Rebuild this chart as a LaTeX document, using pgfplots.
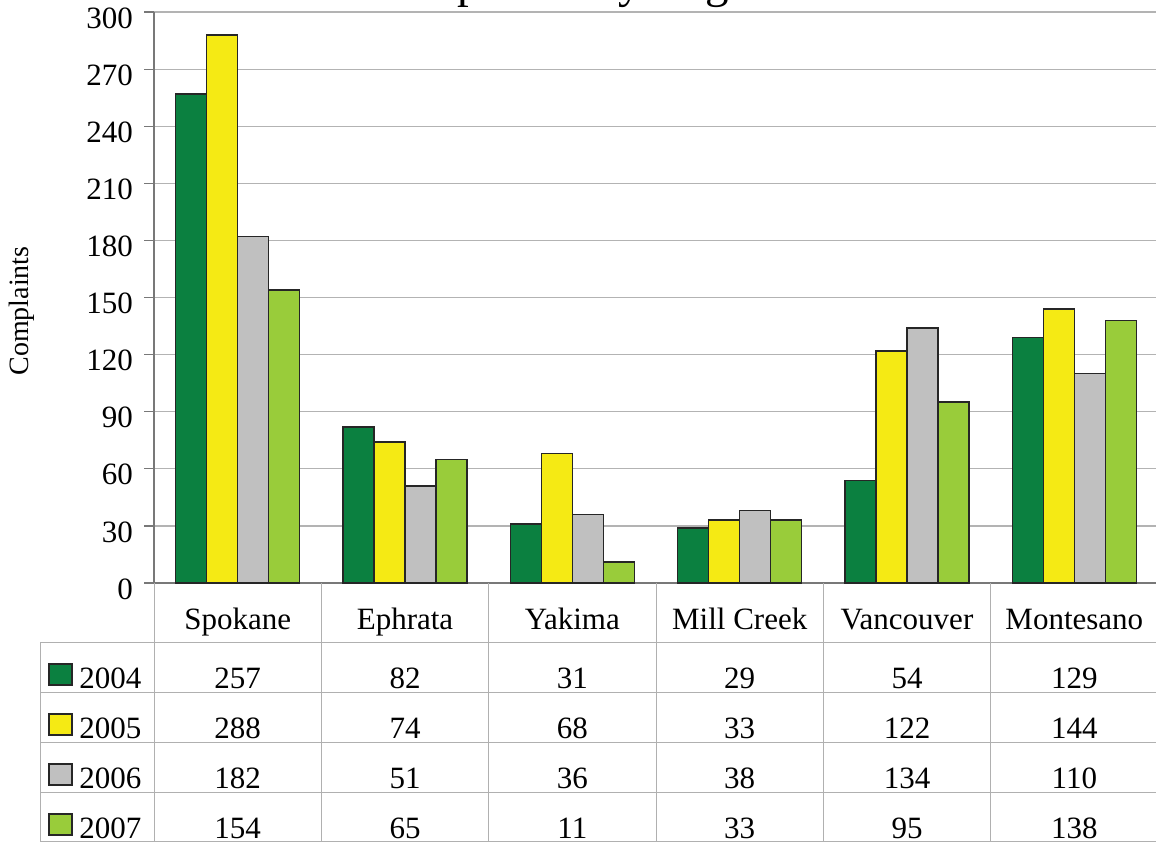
\documentclass[border=0pt]{standalone}
\usepackage{fontspec}
\setmainfont{Liberation Serif}
\usepackage{pgfplots}
\pgfplotsset{compat=1.18}
\definecolor{cA}{RGB}{11,128,64}
\definecolor{cB}{RGB}{245,234,20}
\definecolor{cC}{RGB}{192,192,192}
\definecolor{cD}{RGB}{153,204,58}
\definecolor{gridc}{RGB}{179,179,179}
\definecolor{axisc}{RGB}{120,120,120}
\definecolor{tabc}{RGB}{176,176,176}
\begin{document}
\begin{tikzpicture}
\useasboundingbox (0,0) rectangle (578pt,-420.5pt);
\begin{axis}[at={(77pt,-291.5pt)}, anchor=south west, scale only axis,
  width=502pt, height=285.5pt,
  ybar=0pt, bar width=15.5pt,
  xmin=-0.5, xmax=5.5, ymin=0, ymax=300, ytick={0,30,...,300},
  xtick=\empty,
  axis x line*=bottom, axis y line*=left,
  axis line style={axisc, line width=1pt},
  ymajorgrids, grid style={gridc, line width=0.6pt},
  tick align=outside, major tick length=5pt,
  ytick style={axisc, line width=0.6pt},
  yticklabel style={font=\fontsize{15.5}{18}\selectfont, xshift=-2pt, yshift=-3pt},
  /pgf/number format/assume math mode=true,
  clip=false,
  every axis plot/.append style={draw=black!85, line width=0.7pt},
]
\addplot[fill=cA] coordinates {(0,257) (1,82) (2,31) (3,29) (4,54) (5,129)};
\addplot[fill=cB] coordinates {(0,288) (1,74) (2,68) (3,33) (4,122) (5,144)};
\addplot[fill=cC] coordinates {(0,182) (1,51) (2,36) (3,38) (4,134) (5,110)};
\addplot[fill=cD] coordinates {(0,154) (1,65) (2,11) (3,33) (4,95) (5,138)};
\end{axis}
\begin{scope}[x=0.5pt, y=-0.5pt]
  % title (cut off at top, as in the reference)
  \node[anchor=base, inner sep=0, font=\fontsize{23.5}{28}\selectfont] at (578,-3) {Complaints by Region};
  % y label
  \node[rotate=90, inner sep=0, font=\fontsize{14}{16}\selectfont] at (22,311) {Complaints};
  % data table grid
  \foreach \yy in {642,692,742,792,841} \draw[tabc, line width=0.5pt] (40,\yy) -- (1158,\yy);
  \draw[tabc, line width=0.5pt] (40,642) -- (40,841);
  \foreach \k in {0,...,6} \draw[tabc, line width=0.5pt] ({154+167.333*\k},583) -- ({154+167.333*\k},841);
  % categories
  \foreach \n [count=\k from 0] in {Spokane, Ephrata, Yakima, Mill Creek, Vancouver, Montesano}
    \node[anchor=base, inner sep=0, font=\fontsize{15.5}{18}\selectfont] at ({237.67+167.333*\k},629) {\n};
  % rows
  \foreach \row/\yr/\col/\vals in {688/2004/cA/{257,82,31,29,54,129},
                                   738/2005/cB/{288,74,68,33,122,144},
                                   788/2006/cC/{182,51,36,38,134,110},
                                   838/2007/cD/{154,65,11,33,95,138}} {
    \draw[fill=\col, draw=black!85, line width=0.7pt] (49,\row-24) rectangle (72,\row-3);
    \node[anchor=base west, inner sep=0, font=\fontsize{15.5}{18}\selectfont] at (79,\row) {\yr};
    \foreach \v [count=\k from 0] in \vals
      \node[anchor=base, inner sep=0, font=\fontsize{15.5}{18}\selectfont] at ({237.67+167.333*\k},\row) {\v};
  }
\end{scope}
\end{tikzpicture}
\end{document}
